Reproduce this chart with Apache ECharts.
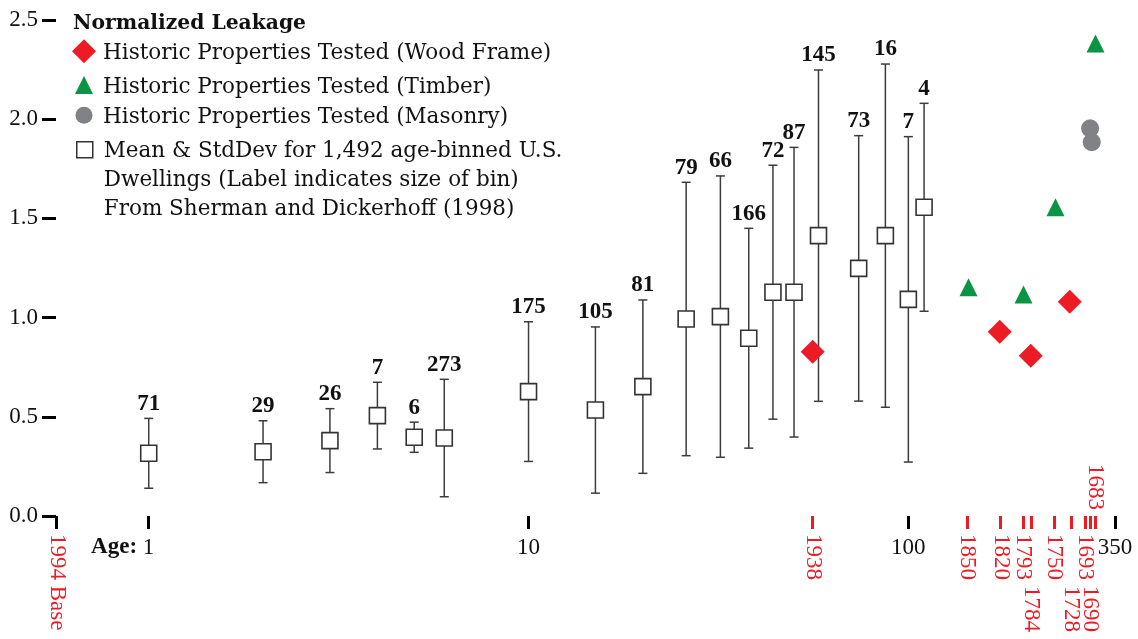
<!DOCTYPE html>
<html>
<head>
<meta charset="utf-8">
<script src="https://cdn.jsdelivr.net/npm/echarts@6/dist/echarts.min.js"></script>
<style>
  html, body { margin: 0; padding: 0; background: #fff; }
  #chart { width: 1138px; height: 639px; }
</style>
</head>
<body>
<div id="chart"></div>
<script>
// age-binned U.S. dwellings: age (years), mean, std dev, bin size
const binAge  = [1, 2, 3, 4, 5, 6, 10, 15, 20, 26, 32, 38, 44, 50, 58, 74, 87, 100, 110];
const binMean = [0.316, 0.324, 0.380, 0.506, 0.397, 0.393, 0.627, 0.534, 0.652, 0.993, 1.005, 0.896, 1.128, 1.128, 1.413, 1.248, 1.413, 1.092, 1.556];
const binStd  = [0.176, 0.156, 0.161, 0.168, 0.076, 0.296, 0.352, 0.419, 0.437, 0.689, 0.709, 0.554, 0.640, 0.730, 0.835, 0.669, 0.865, 0.820, 0.524];
const binSize = [71, 29, 26, 7, 6, 273, 175, 105, 81, 79, 66, 166, 72, 87, 145, 73, 16, 7, 4];

// historic properties: build year + normalized leakage
const baseYear = 1994;
const baseAge = 0.572;            // where "1994 Base" sits on the log axis
const woodYears    = [1938, 1820, 1784, 1728];
const woodLeak     = [0.828, 0.929, 0.808, 1.080];
const timberYears  = [1850, 1793, 1750, 1683];
const timberLeak   = [1.153, 1.117, 1.556, 2.381];
const masonryYears = [1693, 1690];
const masonryLeak  = [1.954, 1.884];

// axis ticks
const ageTicks     = [1, 10, 100, 350];
const yearTickAge  = [56, 143, 175, 201, 211, 242, 268, 292, 301, 310];   // as placed in the figure
const yearTickText = ['1938', '1850', '1820', '1793', '1784', '1750', '1728', '1693', '1690', '1683'];
const lowYears  = ['1784', '1728', '1690'];   // labels pushed one row down
const topYears  = ['1683'];                   // label drawn above the axis

const RED = '#ed1c24', GREEN = '#0b9444', GRAY = '#808285', INK = '#111';
const NUM_FONT = 'Liberation Serif';
const TXT_FONT = 'DejaVu Serif';

const NAME_WOOD = 'Historic Properties Tested (Wood Frame)';
const NAME_TIMBER = 'Historic Properties Tested (Timber)';
const NAME_MASONRY = 'Historic Properties Tested (Masonry)';
const NAME_MEAN = 'Mean & StdDev for 1,492 age-binned U.S. Dwellings';
const MEAN_LINES = ['Mean & StdDev for 1,492 age-binned U.S.',
                    'Dwellings (Label indicates size of bin)',
                    'From Sherman and Dickerhoff (1998)'];

const toAge = y => baseYear - y;
const pts = (years, vals) => years.map((y, i) => [toAge(y), vals[i]]);
const yearLabel = v => {
  let best = 0;
  yearTickAge.forEach((a, i) => { if (Math.abs(a - v) < Math.abs(yearTickAge[best] - v)) best = i; });
  return yearTickText[best];
};

const chart = echarts.init(document.getElementById('chart'), null, { renderer: 'canvas' });

function renderBar(params, api) {
  const x = api.value(0), m = api.value(1), s = api.value(2), n = api.value(3);
  const top = api.coord([x, m + s]);
  const bot = api.coord([x, m - s]);
  const st = { stroke: '#3c3c3c', lineWidth: 1.5 };
  const cap = 4.5;
  return {
    type: 'group',
    children: [
      { type: 'line', shape: { x1: top[0], y1: top[1], x2: bot[0], y2: bot[1] }, style: st },
      { type: 'line', shape: { x1: top[0] - cap, y1: top[1], x2: top[0] + cap, y2: top[1] }, style: st },
      { type: 'line', shape: { x1: bot[0] - cap, y1: bot[1], x2: bot[0] + cap, y2: bot[1] }, style: st },
      { type: 'text', x: top[0], y: top[1] - 3,
        style: { text: String(n), fontFamily: NUM_FONT, fontSize: 23, fontWeight: 'bold',
                 fill: INK, align: 'center', verticalAlign: 'bottom' } }
    ]
  };
}

const logAxis = {
  type: 'log', logBase: 10, min: 0.57, max: 350, gridIndex: 0, position: 'bottom',
  axisLine: { show: false, onZero: false },
  splitLine: { show: false },
  minorTick: { show: false }
};

// one legend per entry so each icon keeps its own size; text pushed to a common column
function legendItem(name, size, top, lines) {
  const pad = 14 - size / 2;
  return {
    orient: 'vertical', left: 84 - size / 2, top: top, padding: 0, selectedMode: false,
    itemWidth: size, itemHeight: size, data: [name],
    itemStyle: { borderWidth: 1.5 },
    formatter: n => (lines || [n]).map(s => '{t|' + s + '}').join('\n'),
    textStyle: {
      fontFamily: TXT_FONT, fontSize: 21.5, color: INK, lineHeight: 29,
      rich: { t: { fontFamily: TXT_FONT, fontSize: 21.5, color: INK, lineHeight: 29, padding: [4, 0, 0, pad] } }
    }
  };
}

chart.setOption({
  animation: false,
  backgroundColor: '#fff',
  title: {
    text: 'Normalized Leakage', left: 73, top: 14, padding: 0,
    textStyle: { fontFamily: TXT_FONT, fontSize: 20.3, fontWeight: 'bold', color: INK }
  },
  legend: [
    legendItem(NAME_WOOD, 24, 36.8),
    legendItem(NAME_TIMBER, 18, 70.5),
    legendItem(NAME_MASONRY, 17, 100.8),
    legendItem(NAME_MEAN, 16, 77.2, ['', ''].concat(MEAN_LINES))
  ],
  grid: { left: 56, right: 23, top: 20, bottom: 123, containLabel: false, outerBoundsMode: 'none' },
  xAxis: [
    { ...logAxis,
      axisTick: { show: true, length: 13, customValues: [baseAge].concat(ageTicks),
                  lineStyle: { color: '#000', width: 3 } },
      axisLabel: {
        customValues: ageTicks, margin: 20, hideOverlap: false,
        fontFamily: NUM_FONT, fontSize: 23, color: INK,
        formatter: v => Math.round(v) === 1 ? '{b|Age: }{n|1}{s| }' : '{n|' + Math.round(v) + '}',
        rich: {
          b: { fontFamily: NUM_FONT, fontSize: 23, fontWeight: 'bold', color: INK },
          n: { fontFamily: NUM_FONT, fontSize: 23, color: INK },
          s: { fontFamily: NUM_FONT, fontSize: 23, width: 52 }
        }
      }
    },
    { ...logAxis,
      axisTick: { show: true, length: 13, customValues: yearTickAge,
                  lineStyle: { color: RED, width: 3 } },
      axisLabel: {
        customValues: [baseAge].concat(yearTickAge.filter((a, i) => !topYears.includes(yearTickText[i]))),
        rotate: -90, margin: 18, hideOverlap: false,
        fontFamily: NUM_FONT, fontSize: 23, color: RED,
        formatter: v => {
          if (v < 1) return '{up|1994 Base}';
          const y = yearLabel(v);
          return (lowYears.includes(y) ? '{lo|' : '{up|') + y + '}';
        },
        rich: {
          up: { fontFamily: NUM_FONT, fontSize: 23, color: RED },
          lo: { fontFamily: NUM_FONT, fontSize: 23, color: RED, padding: [0, 0, 0, 52] }
        }
      }
    },
    { ...logAxis,
      axisTick: { show: false },
      axisLabel: {
        customValues: yearTickAge.filter((a, i) => topYears.includes(yearTickText[i])),
        inside: true, rotate: -90, margin: 6, hideOverlap: false,
        fontFamily: NUM_FONT, fontSize: 23, color: RED,
        formatter: v => yearLabel(v)
      }
    }
  ],
  yAxis: {
    type: 'value', min: 0, max: 2.5, interval: 0.5,
    axisLine: { show: false },
    splitLine: { show: false },
    axisTick: { show: true, length: 14, lineStyle: { color: '#000', width: 3 } },
    axisLabel: { margin: 18, fontFamily: NUM_FONT, fontSize: 23, color: INK,
                 formatter: v => v.toFixed(1) }
  },
  series: [
    { type: 'custom', name: 'errbars', renderItem: renderBar, z: 2,
      encode: { x: 0, y: 1 },
      data: binAge.map((a, i) => [a, binMean[i], binStd[i], binSize[i]]) },
    { type: 'scatter', name: NAME_MEAN, symbol: 'rect', symbolSize: 16, z: 3,
      itemStyle: { color: '#fff', borderColor: '#333', borderWidth: 1.6, opacity: 1 },
      data: binAge.map((a, i) => [a, binMean[i]]) },
    { type: 'scatter', name: NAME_WOOD, symbol: 'diamond', symbolSize: 24, z: 4,
      itemStyle: { color: RED, opacity: 1 }, data: pts(woodYears, woodLeak) },
    { type: 'scatter', name: NAME_TIMBER, symbol: 'triangle', symbolSize: 18, z: 4,
      itemStyle: { color: GREEN, opacity: 1 }, data: pts(timberYears, timberLeak) },
    { type: 'scatter', name: NAME_MASONRY, symbol: 'circle', symbolSize: 18, z: 4,
      itemStyle: { color: GRAY, opacity: 1 }, data: pts(masonryYears, masonryLeak) }
  ]
});
</script>
</body>
</html>
